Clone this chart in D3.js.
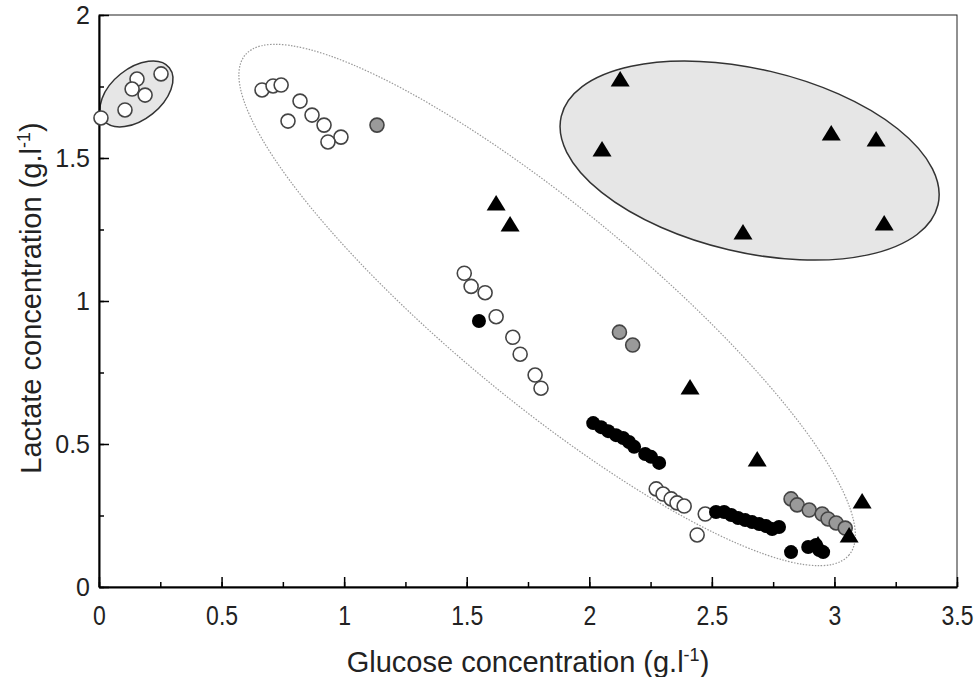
<!DOCTYPE html>
<html><head><meta charset="utf-8">
<script src="https://cdn.jsdelivr.net/npm/d3@7/dist/d3.min.js"></script>
<style>body{margin:0;background:#fff}svg{display:block}text{font-family:"Liberation Sans",Arial,sans-serif}</style>
</head><body>
<script>
// ---- data ----
const xTicks = [0, 0.5, 1, 1.5, 2, 2.5, 3, 3.5];
const yTicks = [0, 0.5, 1, 1.5, 2];
const xTickLabels = ["0", "0.5", "1", "1.5", "2", "2.5", "3", "3.5"];
const yTickLabels = ["0", "0.5", "1", "1.5", "2"];

const openX = [0.008,0.106,0.155,0.135,0.188,0.253,
  0.665,0.710,0.743,0.820,0.869,0.771,0.918,0.987,0.934,
  1.490,1.518,1.575,1.620,1.688,1.718,1.779,1.803,
  2.273,2.301,2.334,2.358,2.387,2.473,2.440];
const openY = [1.640,1.668,1.776,1.741,1.720,1.794,
  1.738,1.752,1.755,1.699,1.650,1.629,1.615,1.573,1.556,
  1.097,1.051,1.029,0.945,0.873,0.814,0.741,0.695,
  0.343,0.325,0.308,0.294,0.283,0.255,0.182];

const grayX = [1.134,2.123,2.177,2.823,2.848,2.897,2.950,2.974,3.007,3.044];
const grayY = [1.615,0.891,0.846,0.308,0.287,0.269,0.255,0.238,0.224,0.206];

const triX = [2.126,2.052,2.987,3.170,3.203,2.627,1.620,1.677,2.411,2.685,3.113,3.060,2.933];
const triY = [1.773,1.528,1.584,1.563,1.269,1.238,1.339,1.266,0.696,0.444,0.297,0.178,0.147];

const blackX = [1.550,
  2.016,2.048,2.077,2.109,2.138,2.162,2.183,2.228,2.252,2.285,
  2.517,2.550,2.579,2.607,2.636,2.664,2.693,2.721,2.746,2.774,
  2.823,2.893,2.925,2.938,2.954];
const blackY = [0.930,
  0.573,0.559,0.545,0.531,0.521,0.507,0.490,0.465,0.455,0.434,
  0.262,0.262,0.252,0.241,0.234,0.227,0.220,0.213,0.203,0.210,
  0.122,0.140,0.147,0.129,0.122];

// ellipse groupings: centre (data units)
const ellipseCX = [0.153, 1.828, 2.654];
const ellipseCY = [1.724, 0.986, 1.491];

// ---- layout ----
const W = 978, H = 677;
const x = d3.scaleLinear().domain([0, 3.5]).range([99, 957]);
const y = d3.scaleLinear().domain([0, 2]).range([587, 15]);

const svg = d3.select("body").append("svg").attr("width", W).attr("height", H);

// ellipses (shape styling)
const ellStyle = [
  {rx: 42, ry: 25.5, rot: -38.7, fill: "#e6e6e6", stroke: "#333", sw: 1.5, dash: null},
  {rx: 392, ry: 96.5, rot: 39.6, fill: "none", stroke: "#999", sw: 1.2, dash: "1.5,1.5"},
  {rx: 193.5, ry: 91.6, rot: 13.2, fill: "#e6e6e6", stroke: "#333", sw: 1.5, dash: null}
];
ellipseCX.forEach((cx, i) => {
  const s = ellStyle[i];
  const e = svg.append("ellipse")
    .attr("cx", 0).attr("cy", 0).attr("rx", s.rx).attr("ry", s.ry)
    .attr("transform", `translate(${x(cx)},${y(ellipseCY[i])}) rotate(${s.rot})`)
    .attr("fill", s.fill).attr("stroke", s.stroke).attr("stroke-width", s.sw);
  if (s.dash) e.attr("stroke-dasharray", s.dash);
});

// frame
svg.append("rect").attr("x", 99).attr("y", 15).attr("width", 858).attr("height", 572)
  .attr("fill", "none").attr("stroke", "#222").attr("stroke-width", 1);

// axes
const xMinor = d3.range(0, 3.51, 0.25);
const yMinor = d3.range(0, 2.01, 0.25);
const gx = svg.append("g").attr("transform", "translate(0,587)");
gx.call(d3.axisBottom(x).tickValues(xMinor).tickSizeInner(-5).tickSizeOuter(0).tickFormat(""));
gx.call(g => g.select(".domain").remove());
const gx2 = svg.append("g").attr("transform", "translate(0,587)");
gx2.call(d3.axisBottom(x).tickValues(xTicks).tickSizeInner(-10).tickSizeOuter(0)
  .tickFormat((d, i) => xTickLabels[i]));
gx2.select(".domain").attr("stroke", "#000").attr("stroke-width", 2);
gx2.selectAll(".tick text").attr("y", 0).attr("dy", null)
  .attr("transform", "translate(0,38) scale(0.92,1.1)")
  .attr("font-size", 25).attr("fill", "#222");

const gy = svg.append("g").attr("transform", "translate(99,0)");
gy.call(d3.axisLeft(y).tickValues(yMinor).tickSizeInner(-5).tickSizeOuter(0).tickFormat(""));
gy.call(g => g.select(".domain").remove());
const gy2 = svg.append("g").attr("transform", "translate(99,0)");
gy2.call(d3.axisLeft(y).tickValues(yTicks).tickSizeInner(-10).tickSizeOuter(0)
  .tickFormat((d, i) => yTickLabels[i]));
gy2.select(".domain").attr("stroke", "#000").attr("stroke-width", 2);
gy2.selectAll(".tick text").attr("x", -9).attr("font-size", 25).attr("fill", "#222");
svg.selectAll(".tick line").attr("stroke", "#000").attr("stroke-width", 1.5);

// markers
const R = 7;
const openPts = openX.map((v, i) => [v, openY[i]]);
const grayPts = grayX.map((v, i) => [v, grayY[i]]);
const triPts = triX.map((v, i) => [v, triY[i]]);
const blackPts = blackX.map((v, i) => [v, blackY[i]]);

svg.append("g").selectAll("circle").data(openPts).join("circle")
  .attr("cx", d => x(d[0])).attr("cy", d => y(d[1])).attr("r", R)
  .attr("fill", "#fff").attr("stroke", "#444").attr("stroke-width", 1.6);
svg.append("g").selectAll("circle").data(grayPts).join("circle")
  .attr("cx", d => x(d[0])).attr("cy", d => y(d[1])).attr("r", R)
  .attr("fill", "#9a9a9a").attr("stroke", "#444").attr("stroke-width", 1.6);
svg.append("g").selectAll("path").data(triPts).join("path")
  .attr("d", d => {
    const cx = x(d[0]), cy = y(d[1]);
    return `M${cx},${cy - 9}L${cx + 9.5},${cy + 6.5}L${cx - 9.5},${cy + 6.5}Z`;
  })
  .attr("fill", "#000");
svg.append("g").selectAll("circle").data(blackPts).join("circle")
  .attr("cx", d => x(d[0])).attr("cy", d => y(d[1])).attr("r", R)
  .attr("fill", "#000");

// axis titles
const xt = svg.append("text").attr("x", 528).attr("y", 672).attr("text-anchor", "middle")
  .attr("font-size", 29).attr("fill", "#222");
xt.append("tspan").text("Glucose concentration (g.l");
xt.append("tspan").attr("dy", -11).attr("font-size", 18).text("-1");
xt.append("tspan").attr("dy", 11).text(")");

const yt = svg.append("text").attr("transform", "translate(41,298) rotate(-90)")
  .attr("text-anchor", "middle").attr("font-size", 29).attr("fill", "#222");
yt.append("tspan").text("Lactate concentration (g.l");
yt.append("tspan").attr("dy", -11).attr("font-size", 18).text("-1");
yt.append("tspan").attr("dy", 11).text(")");
</script>
</body></html>
